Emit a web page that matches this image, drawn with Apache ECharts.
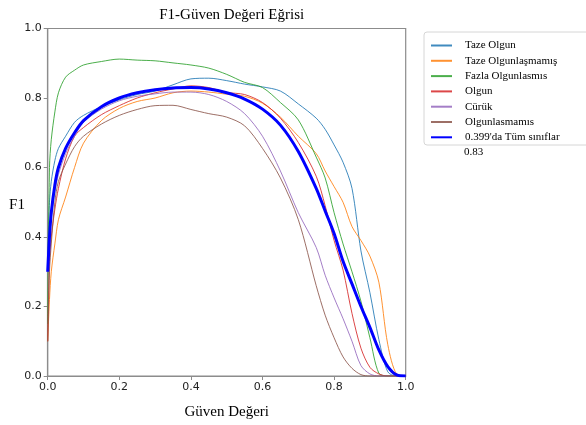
<!DOCTYPE html>
<html>
<head>
<meta charset="utf-8">
<script src="https://cdn.jsdelivr.net/npm/echarts@6/dist/echarts.min.js"></script>
<style>
    html, body {margin: 0; padding: 0; background: #fff;}
    #chart {width: 586px; height: 425px;}
</style>
</head>
<body>
<div id="chart"></div>
<script>
// güven değerleri (x ekseni)
var guven = [0, 0.005, 0.01, 0.02, 0.03, 0.05, 0.075, 0.1, 0.15, 0.2, 0.25, 0.3, 0.35, 0.4, 0.45, 0.5, 0.55, 0.6, 0.65, 0.7, 0.75, 0.775, 0.8, 0.825, 0.85, 0.875, 0.9, 0.925, 0.95, 0.975, 1.0];

// her sınıf için F1 değerleri
var tazeOlgun = [0.35, 0.50, 0.56, 0.62, 0.655, 0.69, 0.73, 0.75, 0.775, 0.795, 0.81, 0.82, 0.838, 0.855, 0.857, 0.85, 0.840, 0.832, 0.82, 0.783, 0.742, 0.71, 0.665, 0.615, 0.54, 0.36, 0.24, 0.105, 0.012, 0, 0];
var tazeOlgunlasmamis = [0.10, 0.22, 0.30, 0.38, 0.45, 0.515, 0.60, 0.67, 0.735, 0.77, 0.79, 0.80, 0.815, 0.82, 0.817, 0.811, 0.805, 0.785, 0.745, 0.69, 0.64, 0.59, 0.545, 0.50, 0.43, 0.39, 0.345, 0.27, 0.09, 0.005, 0];
var fazlaOlgunlasmis = [0.15, 0.60, 0.68, 0.76, 0.815, 0.86, 0.88, 0.895, 0.905, 0.912, 0.909, 0.907, 0.901, 0.895, 0.886, 0.868, 0.845, 0.83, 0.787, 0.737, 0.63, 0.57, 0.47, 0.38, 0.30, 0.215, 0.11, 0.008, 0, 0, 0];
var olgun = [0.10, 0.33, 0.40, 0.48, 0.54, 0.625, 0.69, 0.715, 0.752, 0.778, 0.80, 0.815, 0.826, 0.835, 0.83, 0.816, 0.81, 0.787, 0.742, 0.672, 0.575, 0.49, 0.39, 0.305, 0.18, 0.08, 0.025, 0.006, 0, 0, 0];
var curuk = [0.30, 0.40, 0.46, 0.53, 0.58, 0.64, 0.69, 0.73, 0.768, 0.792, 0.805, 0.812, 0.817, 0.817, 0.81, 0.79, 0.755, 0.69, 0.59, 0.47, 0.37, 0.29, 0.225, 0.165, 0.10, 0.03, 0.006, 0, 0, 0, 0];
var olgunlasmamis = [0.10, 0.30, 0.38, 0.50, 0.56, 0.61, 0.66, 0.69, 0.725, 0.75, 0.767, 0.778, 0.779, 0.767, 0.755, 0.745, 0.72, 0.655, 0.57, 0.45, 0.26, 0.175, 0.11, 0.055, 0.022, 0.004, 0, 0, 0, 0, 0];
var tumSiniflar = [0.30, 0.40, 0.47, 0.55, 0.60, 0.655, 0.70, 0.735, 0.775, 0.80, 0.815, 0.824, 0.829, 0.83, 0.826, 0.815, 0.797, 0.768, 0.722, 0.646, 0.54, 0.475, 0.41, 0.33, 0.265, 0.20, 0.14, 0.075, 0.027, 0.003, 0];

var siniflar = ['Taze Olgun', 'Taze Olgunlaşmamış', 'Fazla Olgunlasmıs', 'Olgun', 'Cürük', 'Olgunlasmamıs', "0.399'da Tüm sınıflar"];
var renkler = ['#1f77b4', '#ff7f0e', '#2ca02c', '#d62728', '#9467bd', '#8c564b', '#0000ff'];
var degerler = [tazeOlgun, tazeOlgunlasmamis, fazlaOlgunlasmis, olgun, curuk, olgunlasmamis, tumSiniflar];
var yTicks = [0, 0.2, 0.4, 0.6, 0.8, 1.0];

function eslestir(ys) {
    var out = [];
    for (var i = 0; i < guven.length; i++) {
        out.push([guven[i], ys[i]]);
    }
    return out;
}

var seriler = [];
for (var i = 0; i < siniflar.length; i++) {
    var kalin = i == siniflar.length - 1;
    seriler.push({
        name: siniflar[i],
        type: 'line',
        symbol: 'none',
        smooth: 0.3,
        data: eslestir(degerler[i]),
        lineStyle: {color: renkler[i], width: kalin ? 3 : 1, opacity: kalin ? 1 : 0.85},
        itemStyle: {color: renkler[i]},
        z: kalin ? 5 : 2
    });
}

var serif = 'Liberation Serif, Times New Roman, serif';
var sans = 'DejaVu Sans, sans-serif';
var cerceve = '#8c8c8c';

var chart = echarts.init(document.getElementById('chart'));
chart.setOption({
    animation: false,
    backgroundColor: '#fff',
    title: {
        text: 'F1-Güven Değeri Eğrisi',
        left: 226.7,
        textAlign: 'center',
        top: 3,
        textStyle: {fontFamily: serif, fontSize: 15, fontWeight: 'normal', color: '#000'}
    },
    grid: {
        left: 47.7, right: 180.3, top: 28.5, bottom: 43.3,
        show: true, borderColor: cerceve, borderWidth: 1.2
    },
    legend: {
        orient: 'vertical',
        left: 430,
        top: 40,
        itemWidth: 21,
        itemHeight: 8,
        itemGap: 4.3,
        padding: 0,
        data: siniflar,
        itemStyle: {opacity: 0},
        textStyle: {fontFamily: serif, fontSize: 11, color: '#000', padding: [0, 0, 0, 8]}
    },
    graphic: [
        {type: 'rect', shape: {x: 424, y: 32, width: 170, height: 113, r: 3},
         style: {fill: 'none', stroke: '#d6d6d6', lineWidth: 1}, z: -1},
        {type: 'text', x: 464, y: 152.5,
         style: {text: '0.83', font: '11px ' + serif, fill: '#000', textVerticalAlign: 'middle'}},
        {type: 'text', x: 17, y: 205,
         style: {text: 'F1', font: '15px ' + serif, fill: '#000', textAlign: 'center', textVerticalAlign: 'middle'}}
    ],
    xAxis: {
        type: 'value', min: 0, max: 1, interval: 0.2,
        name: 'Güven Değeri', nameLocation: 'middle', nameGap: 29,
        nameTextStyle: {fontFamily: serif, fontSize: 15, color: '#000'},
        axisLine: {lineStyle: {color: cerceve, width: 1.2}},
        axisTick: {show: true, length: 4, lineStyle: {color: cerceve}},
        axisLabel: {fontFamily: sans, fontSize: 11, color: '#222', margin: 6,
                    formatter: function (v) { return v.toFixed(1); }},
        splitLine: {show: false}
    },
    yAxis: {
        type: 'value', min: 0, max: 1, interval: 0.2,
        axisLine: {show: true, lineStyle: {color: cerceve, width: 1.2}},
        axisTick: {show: true, length: 4, lineStyle: {color: cerceve}},
        axisLabel: {fontFamily: sans, fontSize: 11, color: '#222', margin: 6,
                    formatter: function (v) { return yTicks.indexOf(v) >= 0 ? v.toFixed(1) : ''; }},
        splitLine: {show: false}
    },
    series: seriler
});
</script>
</body>
</html>
